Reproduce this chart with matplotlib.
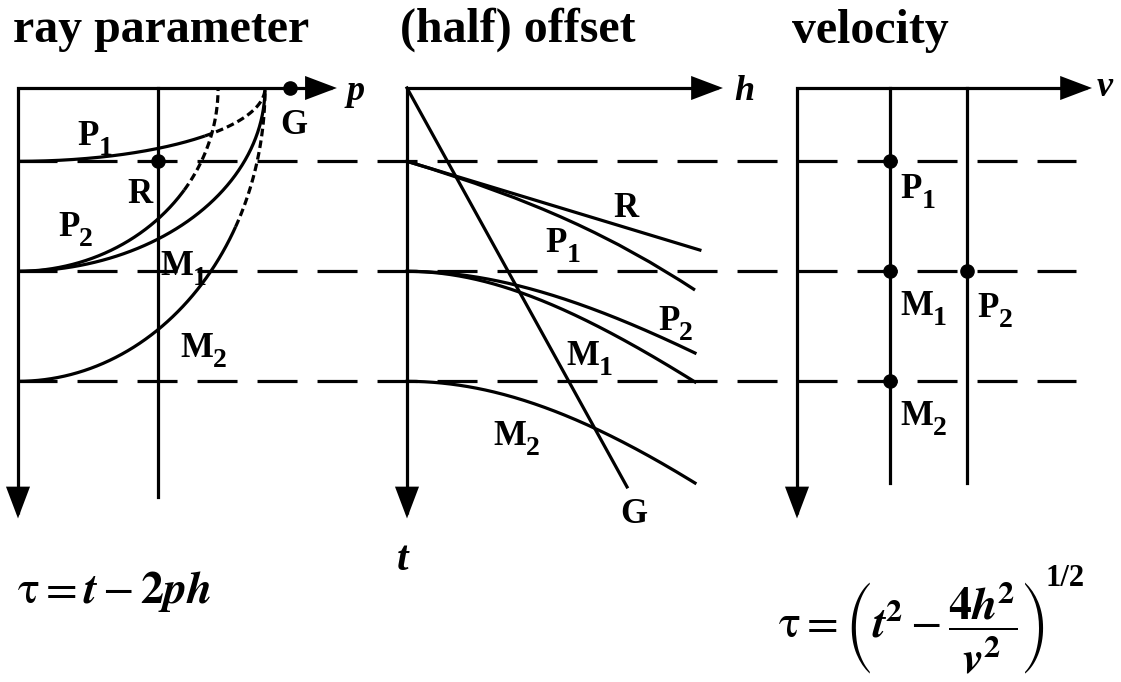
import numpy as np
import matplotlib
matplotlib.use("Agg")
import matplotlib.pyplot as plt
from matplotlib.transforms import Affine2D, ScaledTranslation
from matplotlib.patches import FancyArrowPatch, ArrowStyle, PathPatch
from matplotlib.path import Path

plt.rcParams['lines.scale_dashes'] = False
plt.rcParams['mathtext.fontset'] = 'stix'

SERIF = 'Liberation Serif'

# ---------------------------------------------------------------- events
event_names = ['P1', 'P2', 'M1', 'M2']
event_t0 = [1.0, 2.5, 2.5, 4.0]            # zero-offset time

# tau-p domain
taup_p_end = [1.0, 0.81, 1.0, 1.0]          # p where tau reaches zero
taup_p_solid = [0.757, 0.673, 1.0, 0.881]   # recorded part ends here
refraction_p = 0.567
ground_roll_p = 1.10
taup_line_len = 5.58

# t-h domain
offset_max = 1.0
event_t_at_max_offset = [2.755, 3.614, 4.009, 5.387]
p1_ctrl_h = [0.0, 0.45, 0.72, 1.0]
p1_ctrl_t = [1.0, 1.535, 2.04, 2.755]
refraction_h = [0.0, 1.017]
refraction_t = [1.0, 2.21]
ground_roll_h = [0.0, 0.764]
ground_roll_t = [0.0, 5.44]

# velocity domain
event_velocity = [1.0, 1.828, 1.0, 1.0]
velocity_line_len = 5.387

# axis extents
time_axis_len = 5.87
p_axis_len = 1.291
h_axis_len = 1.097
v_axis_len = 3.172
dash_row_px = [18, 1076]

# ---------------------------------------------------------------- figure
fig = plt.figure(figsize=(11.21, 6.82), dpi=100, facecolor='white')
ax = fig.add_axes([0, 0, 1, 1])
ax.set_xlim(0, 1121)
ax.set_ylim(682, 0)
ax.axis('off')

T_PX, Y0 = 73.33, 88
LW = 2.3


def panel(x0, sx):
    return Affine2D().scale(sx, T_PX).translate(x0, Y0) + ax.transData


tr_left = panel(18, 247)
tr_mid = panel(407, 288)
tr_right = panel(797, 93)
tr_row = panel(0, 1)


def axes_frame(tr, xlen):
    path = Path([(0, time_axis_len), (0, 0), (xlen, 0)])
    arr = FancyArrowPatch(path=path, transform=tr,
                          arrowstyle=ArrowStyle('<|-|>', head_length=18.5,
                                                head_width=7.0),
                          mutation_scale=1, lw=LW, color='black',
                          joinstyle='miter', capstyle='butt')
    ax.add_patch(arr)


# dashed time levels across all three panels
for t0 in sorted(set(event_t0)):
    ax.plot(dash_row_px, [t0, t0], transform=tr_row, color='black', lw=LW,
            ls=(0.7, (28.8, 14.4)), dash_capstyle='butt')

# ---- left: ray parameter
axes_frame(tr_left, p_axis_len)
ax.plot([refraction_p, refraction_p], [0, taup_line_len], transform=tr_left,
        color='black', lw=LW)
for t0, pe, ps in zip(event_t0, taup_p_end, taup_p_solid):
    th_s = np.arcsin(min(ps / pe, 1.0))
    th1 = np.linspace(0, th_s, 200)
    ax.plot(pe * np.sin(th1), t0 * np.cos(th1), transform=tr_left,
            color='black', lw=LW, solid_capstyle='butt')
    if th_s < np.pi / 2:
        th2 = np.linspace(th_s, np.pi / 2, 100)
        ax.plot(pe * np.sin(th2), t0 * np.cos(th2), transform=tr_left,
                color='black', lw=LW, ls=(0, (5.5, 3.0)),
                dash_capstyle='butt')
ax.plot([refraction_p], [event_t0[0]], 'o', color='black', ms=9.5,
        transform=tr_left)
ax.plot([ground_roll_p], [0], 'o', color='black', ms=9.5, transform=tr_left)

# ---- middle: half offset
axes_frame(tr_mid, h_axis_len)
ax.plot(ground_roll_h, ground_roll_t, transform=tr_mid, color='black', lw=LW)
ax.plot(refraction_h, refraction_t, transform=tr_mid, color='black', lw=LW)
hh = np.linspace(0, offset_max, 200)
for name, t0, te in zip(event_names, event_t0, event_t_at_max_offset):
    if name == 'P1':
        continue
    tt = np.sqrt(t0 ** 2 + (te ** 2 - t0 ** 2) * (hh / offset_max) ** 2)
    ax.plot(hh, tt, transform=tr_mid, color='black', lw=LW)
p1_path = Path(list(zip(p1_ctrl_h, p1_ctrl_t)),
               [Path.MOVETO, Path.CURVE4, Path.CURVE4, Path.CURVE4])
ax.add_patch(PathPatch(p1_path, transform=tr_mid, fill=False,
                       edgecolor='black', lw=LW))

# ---- right: velocity
axes_frame(tr_right, v_axis_len)
for v in sorted(set(event_velocity)):
    ax.plot([v, v], [0, velocity_line_len], transform=tr_right,
            color='black', lw=LW)
ax.plot(event_velocity, event_t0, 'o', color='black', ms=9.5, ls='none',
        transform=tr_right)

# ---------------------------------------------------------------- text
renderer = fig.canvas.get_renderer()
bold = dict(family=SERIF, fontweight='bold', color='black')
boldit = dict(family=SERIF, fontweight='bold', fontstyle='italic',
              color='black')


def label(x, y, main, sub=None, size=25):
    t = ax.text(x, y, main, fontsize=size, va='baseline', ha='left', **bold)
    if sub:
        w = t.get_window_extent(renderer).width
        off = ScaledTranslation(w / 100, -10 / 100, fig.dpi_scale_trans)
        ax.text(x, y, sub, fontsize=size * 0.8, va='baseline', ha='left',
                transform=ax.transData + off, **bold)


# titles
ax.text(13, 42, 'ray parameter', fontsize=34.5, va='baseline', **bold)
ax.text(400, 42, '(half) offset', fontsize=34.5, va='baseline', **bold)
ax.text(792, 43, 'velocity', fontsize=34.5, va='baseline', **bold)

# axis names
ax.text(347, 100, 'p', fontsize=26, va='baseline', **boldit)
ax.text(734, 100, 'h', fontsize=26, va='baseline', **boldit)
ax.text(1097, 96, 'v', fontsize=26, va='baseline', **boldit)
ax.text(397, 570, 't', fontsize=30, va='baseline', **boldit)

# left labels
label(77, 145, 'P', '1')
label(127, 203, 'R')
label(58, 236, 'P', '2')
label(160, 275, 'M', '1')
label(180, 357, 'M', '2')
label(280, 134, 'G')
# middle labels
label(613, 217, 'R')
label(545, 252, 'P', '1')
label(658, 330, 'P', '2')
label(566, 365, 'M', '1')
label(493, 445, 'M', '2')
label(620, 523, 'G')
# right labels
label(900, 198, 'P', '1')
label(900, 315, 'M', '1')
label(977, 317, 'P', '2')
label(900, 425, 'M', '2')

# formulas
ax.text(17, 603, r'$\mathrm{\tau} = \mathbfit{t} - \mathbf{2}\mathbfit{ph}$',
        fontsize=33, va='baseline', color='black')
slant = ax.text(778, 637,
                r'$\mathrm{\tau} = \left(\mathbfit{t}^{\mathbf{2}} - '
                r'\dfrac{\mathbf{4}\mathbfit{h}^{\mathbf{2}}}'
                r'{\mathbfit{v}^{\mathbf{2}}}\right)$',
                fontsize=33, va='baseline', color='black')
ext = slant.get_window_extent(renderer)
off = ScaledTranslation((ext.x1 - 778 + 1) / 100, 0, fig.dpi_scale_trans)
ax.text(778, 586, '1/2', fontsize=22, va='baseline', ha='left',
        transform=ax.transData + off, **bold)

fig.savefig('out.png', dpi=100, facecolor='white')
